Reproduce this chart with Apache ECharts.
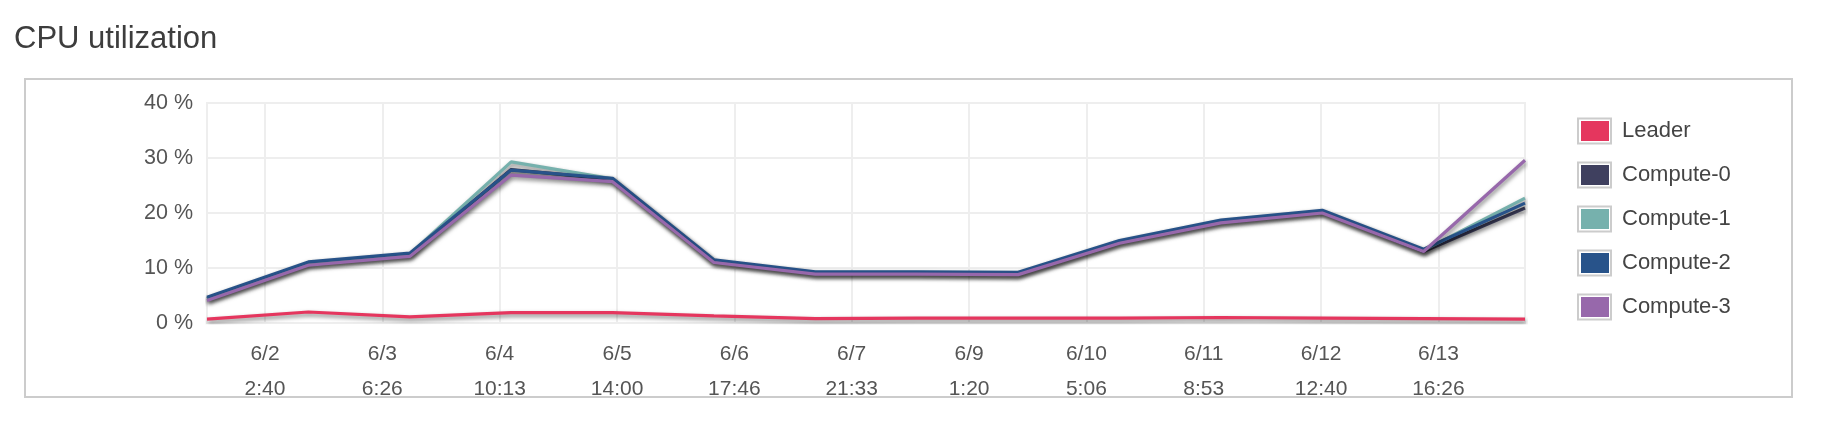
<!DOCTYPE html>
<html><head><meta charset="utf-8">
<script src="https://cdn.jsdelivr.net/npm/echarts@6/dist/echarts.min.js"></script>
<style>html,body{margin:0;padding:0;background:#fff}#c{width:1826px;height:424px}</style>
</head><body><div id="c"></div>
<script>
// ---- data ----
const pointTimes = ['6/1 12:56','6/2 12:56','6/3 12:56','6/4 12:56','6/5 12:56','6/6 12:56','6/7 12:56',
                    '6/8 12:56','6/9 12:56','6/10 12:56','6/11 12:56','6/12 12:56','6/13 12:56','6/14 12:56'];
const tickDates = ['6/2','6/3','6/4','6/5','6/6','6/7','6/9','6/10','6/11','6/12','6/13'];
const tickTimes = ['2:40','6:26','10:13','14:00','17:46','21:33','1:20','5:06','8:53','12:40','16:26'];
const seriesNames = ['Leader','Compute-0','Compute-1','Compute-2','Compute-3'];
const seriesColors = ['#e5365e','#3f405f','#76b1ad','#28538a','#9768ab'];
const leader   = [0.7, 2.0, 1.1, 1.9, 1.9, 1.3, 0.8, 0.9, 0.9, 0.9, 1.0, 0.9, 0.8, 0.7];
const compute0 = [4.4, 10.8, 12.4, 27.9, 26.1, 11.2, 9.0, 9.0, 8.9, 14.7, 18.4, 20.2, 13.0, 20.9];
const compute1 = [4.5, 10.9, 12.5, 29.3, 26.2, 11.3, 9.1, 9.1, 9.0, 14.8, 18.5, 20.3, 13.2, 22.7];
const compute2 = [4.7, 11.1, 12.7, 27.8, 26.3, 11.5, 9.3, 9.3, 9.2, 15.0, 18.7, 20.5, 13.4, 21.8];
const compute3 = [4.1, 10.5, 12.1, 26.9, 25.7, 11.0, 8.9, 8.9, 8.8, 14.5, 18.2, 20.0, 13.0, 29.6];
const yMin = 0, yMax = 40, yStep = 10;

// ---- helpers ----
function toHours(date, time) {
  const d = Number(date.split('/')[1]);
  const [h, m] = time.split(':').map(Number);
  return (d - 1) * 24 + h + m / 60;
}
const pointHours = pointTimes.map(s => { const [dt, tm] = s.split(' '); return toHours(dt, tm); });
const tickHours = tickDates.map((d, i) => toHours(d, tickTimes[i]));
const allValues = [leader, compute0, compute1, compute2, compute3];

const FONT = '"Liberation Sans", Arial, sans-serif';
const chart = echarts.init(document.getElementById('c'), null, {renderer: 'canvas'});

const legendBase = {
  orient: 'vertical',
  icon: 'rect',
  top: 107,
  itemGap: 6,
  selectedMode: false,
  data: seriesNames,
  lineStyle: {width: 0, opacity: 0},
  textStyle: {fontFamily: FONT, fontSize: 22, color: '#444', lineHeight: 30, padding: [8, 0, 0, 8]}
};

chart.setOption({
  animation: false,
  backgroundColor: '#fff',
  title: {
    text: 'CPU utilization', left: 9, top: 19,
    textStyle: {fontFamily: FONT, fontSize: 31, fontWeight: 'normal', color: '#3d3d3d'}
  },
  legend: [
    Object.assign({}, legendBase, {
      left: 1572, itemWidth: 33, itemHeight: 25,
      itemStyle: {color: '#fff', borderColor: '#cccccc', borderWidth: 2},
      textStyle: Object.assign({}, legendBase.textStyle, {color: 'rgba(0,0,0,0)'})
    }),
    Object.assign({}, legendBase, {
      left: 1576, itemWidth: 28, itemHeight: 20,
      itemStyle: {borderWidth: 0}
    })
  ],
  grid: {
    left: 207, top: 103, width: 1318, height: 220,
    show: true, borderColor: '#eeeeee', borderWidth: 2,
    containLabel: false, outerBoundsMode: 'none'
  },
  xAxis: {
    type: 'value',
    min: pointHours[0], max: pointHours[pointHours.length - 1],
    axisLine: {show: false},
    axisTick: {show: false, customValues: tickHours},
    axisLabel: {
      customValues: tickHours,
      margin: 14, fontFamily: FONT, fontSize: 21, color: '#555', lineHeight: 35,
      formatter: function (v) {
        let best = 0;
        tickHours.forEach((t, i) => { if (Math.abs(t - v) < Math.abs(tickHours[best] - v)) best = i; });
        return tickDates[best] + '\n' + tickTimes[best];
      }
    },
    splitLine: {show: true, lineStyle: {color: '#eeeeee', width: 2}}
  },
  yAxis: {
    type: 'value', min: yMin, max: yMax, interval: yStep,
    axisLine: {show: false}, axisTick: {show: false},
    axisLabel: {margin: 14, fontFamily: FONT, fontSize: 21.5, color: '#555', padding: [5, 0, 0, 0],
                formatter: v => v + ' %'},
    splitLine: {show: true, lineStyle: {color: '#eeeeee', width: 2}}
  },
  series: seriesNames.map((name, k) => ({
    name: name,
    type: 'line',
    color: seriesColors[k],
    showSymbol: false,
    symbol: 'none',
    data: pointHours.map((h, i) => [h, allValues[k][i]]),
    lineStyle: {
      width: 3.2, color: seriesColors[k],
      shadowColor: 'rgba(0,0,0,0.5)', shadowBlur: 4, shadowOffsetX: 1, shadowOffsetY: 2.5
    }
  })),
  graphic: [{
    type: 'rect', silent: true, z: 100,
    shape: {x: 25, y: 79, width: 1767, height: 318},
    style: {fill: null, stroke: '#cccccc', lineWidth: 2}
  }]
});
</script></body></html>
